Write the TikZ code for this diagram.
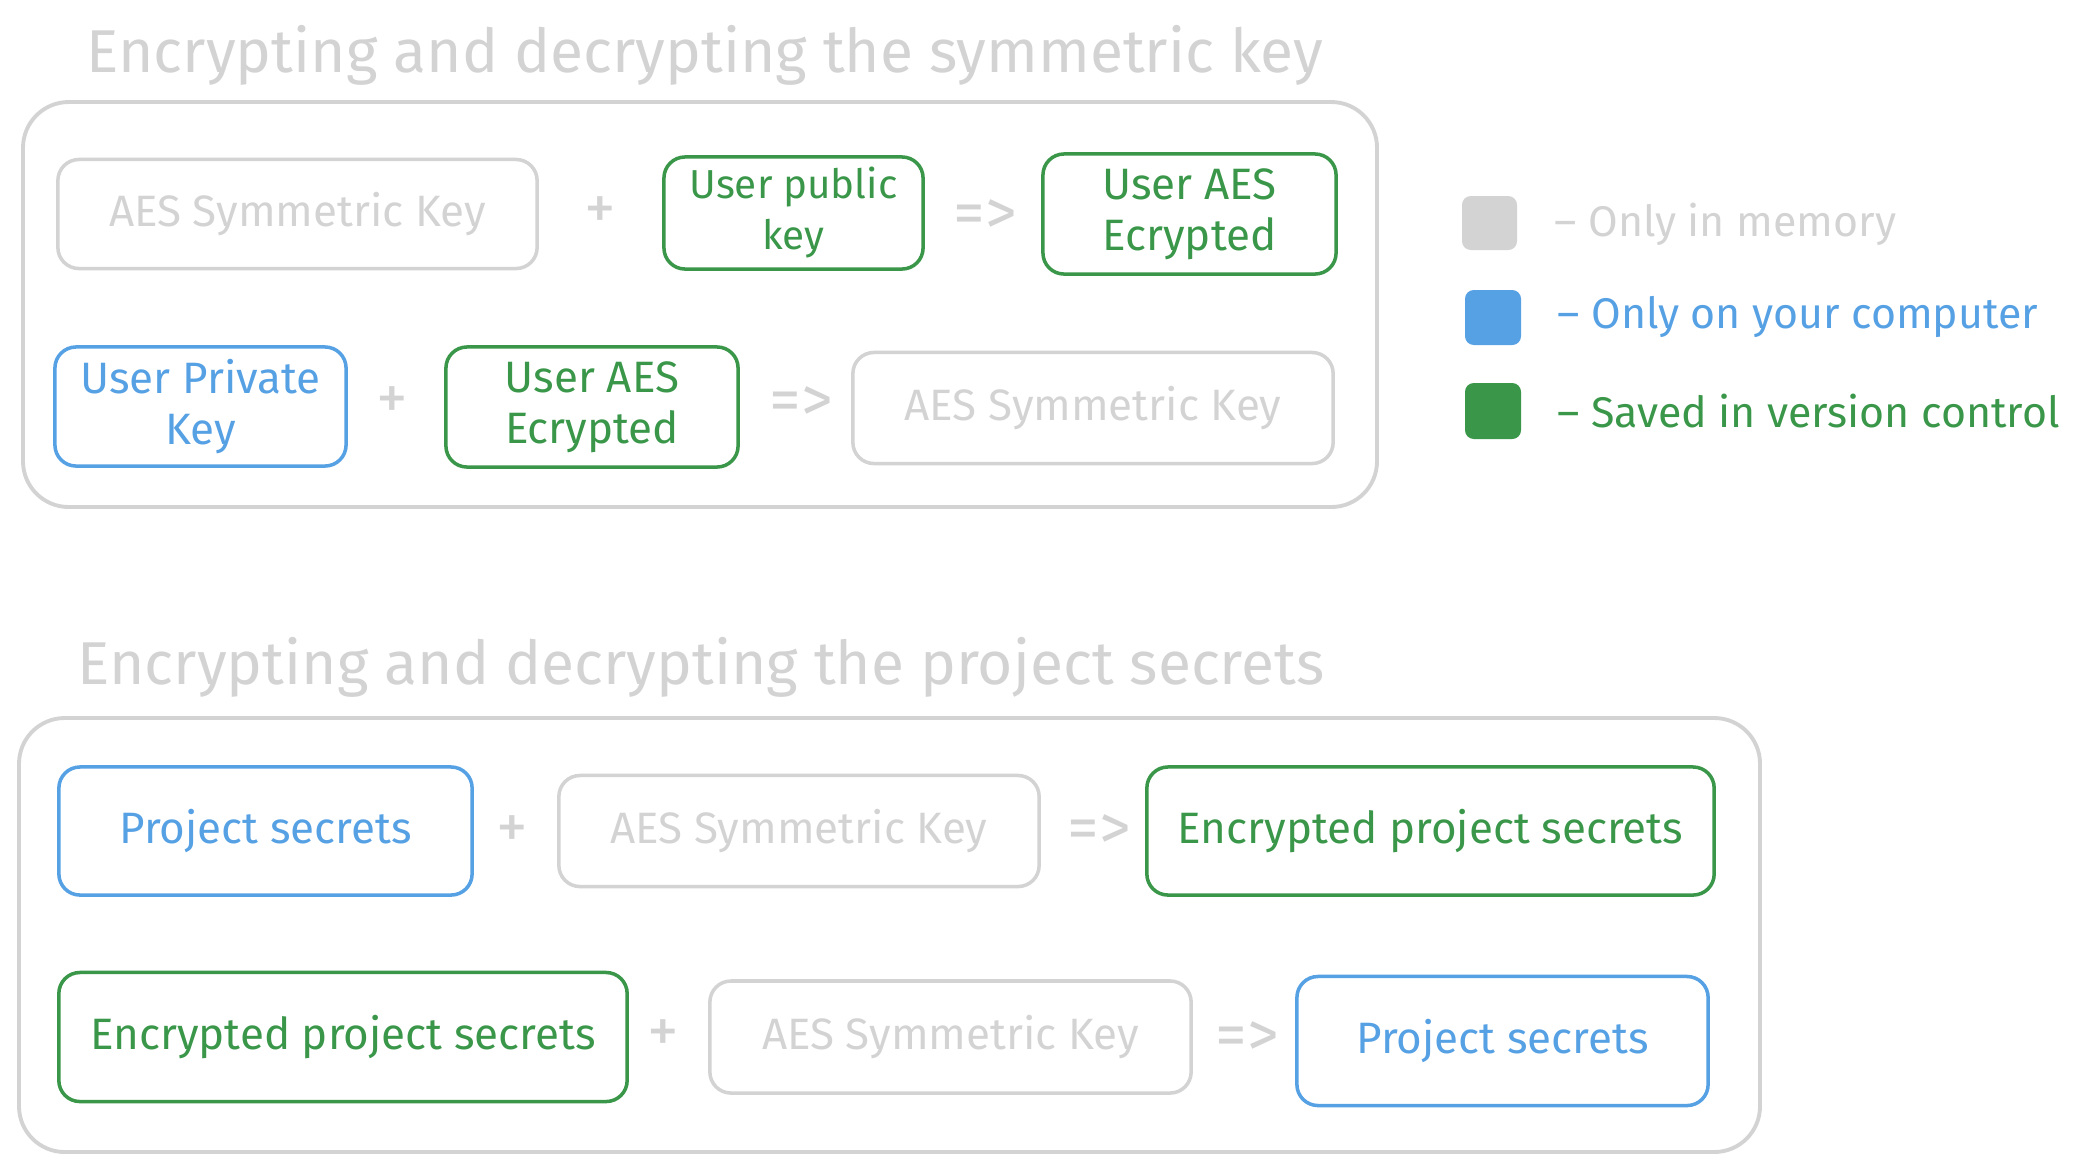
\documentclass[tikz,border=0pt]{standalone}
\usepackage{fontspec}
\setmainfont{Fira Sans}
\usetikzlibrary{positioning}
\definecolor{mygray}{RGB}{211, 211, 211}
\definecolor{myblue}{RGB}{86, 160, 228}
\definecolor{mygreen}{RGB}{58, 151, 74}
\tikzset{
  keybox/.style = {draw, line width = 1pt, rounded corners = 6pt, align = center,
    inner sep = 0pt, font = \fontsize{12.5}{14.5}\selectfont},
  memory/.style = {keybox, mygray, text = mygray},
  local/.style = {keybox, myblue, text = myblue},
  saved/.style = {keybox, mygreen, text = mygreen},
  op/.style = {mygray, font = \fontsize{18}{18}\selectfont},
  frame/.style = {draw = mygray, line width = 1.1pt, rounded corners = 13pt},
  heading/.style = {mygray, anchor = west, inner sep = 0pt, font = \fontsize{17.2}{19}\selectfont},
  swatch/.style = {rounded corners = 2.5pt},
  legendtext/.style = {anchor = west, inner sep = 0pt, font = \fontsize{12.2}{14}\selectfont}
}

\begin{document}
\begin{tikzpicture}[x = 0.01cm, y = -0.01cm]
\useasboundingbox (0, 0) rectangle (2086, 1169);

% symmetric key part
\node[heading] (titleA) at (86, 55) {Encrypting and decrypting the symmetric key};
\draw[frame] (23, 102) rectangle (1377, 507);
\node[memory, minimum width = 4.79cm, minimum height = 1.09cm] (aesA) at (297.5, 214) {AES Symmetric Key};
\node[op] (plusA) at (600, 213) {+};
\node[saved, minimum width = 2.59cm, minimum height = 1.12cm, font = \fontsize{11.5}{14.5}\selectfont] (pubkey) at (793.5, 213) {User public\\key};
\node[op] (thenA) at (985, 217) {=>};
\node[saved, minimum width = 2.93cm, minimum height = 1.2cm] (encaesA) at (1189.5, 214) {User AES\\Ecrypted};

\node[local, minimum width = 2.91cm, minimum height = 1.19cm] (privkey) at (200.5, 406.5) {User Private\\Key};
\node[op] (plusB) at (392, 403) {+};
\node[saved, minimum width = 2.92cm, minimum height = 1.2cm] (encaesB) at (592, 407) {User AES\\Ecrypted};
\node[op] (thenB) at (801, 404) {=>};
\node[memory, minimum width = 4.8cm, minimum height = 1.11cm] (aesB) at (1093, 408) {AES Symmetric Key};

% legend
\fill[mygray, swatch] (1462, 196) rectangle (1517, 250);
\node[legendtext, mygray] (memtext) at (1554, 224) {– Only in memory};
\fill[myblue, swatch] (1465, 290) rectangle (1521, 345);
\node[legendtext, myblue] (localtext) at (1557, 317) {– Only on your computer};
\fill[mygreen, swatch] (1465, 383) rectangle (1521, 439);
\node[legendtext, mygreen] (savedtext) at (1557, 411) {– Saved in version control};

% project secrets part
\node[heading] (titleB) at (77, 667) {Encrypting and decrypting the project secrets};
\draw[frame] (19, 718) rectangle (1760, 1152);
\node[local, minimum width = 4.13cm, minimum height = 1.28cm] (secA) at (265.5, 831) {Project secrets};
\node[op] (plusC) at (512, 832) {+};
\node[memory, minimum width = 4.8cm, minimum height = 1.11cm] (aesC) at (799, 831) {AES Symmetric Key};
\node[op] (thenC) at (1099, 832) {=>};
\node[saved, minimum width = 5.67cm, minimum height = 1.28cm] (encA) at (1430.5, 831) {Encrypted project secrets};

\node[saved, minimum width = 5.68cm, minimum height = 1.29cm] (encB) at (343, 1037) {Encrypted project secrets};
\node[op] (plusD) at (663, 1036) {+};
\node[memory, minimum width = 4.81cm, minimum height = 1.12cm] (aesD) at (950.5, 1037) {AES Symmetric Key};
\node[op] (thenD) at (1247, 1039) {=>};
\node[local, minimum width = 4.11cm, minimum height = 1.29cm] (secB) at (1502.5, 1041) {Project secrets};
\end{tikzpicture}
\end{document}
